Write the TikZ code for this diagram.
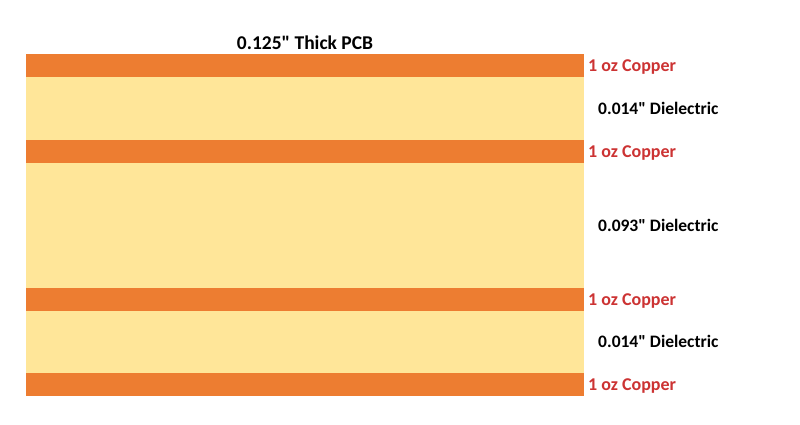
\documentclass[tikz,border=0pt]{standalone}
\usepackage{fontspec}
\setmainfont{Carlito}[Ligatures=TeXOff]
\usetikzlibrary{positioning}

\definecolor{copperorange}{HTML}{ED7D31}
\definecolor{dielyellow}{HTML}{FFE699}
\definecolor{labelred}{HTML}{CC3333}

\begin{document}
\begin{tikzpicture}[
  x=1pt, y=-1pt,
  layer/.style={anchor=north west, inner sep=0pt, outer sep=0pt, minimum width=558pt},
  copper/.style={layer, fill=copperorange, minimum height=23pt},
  dielectric/.style={layer, fill=dielyellow},
  culabel/.style={inner sep=0pt, yshift=-2pt, font=\bfseries\fontsize{18}{21}\selectfont, text=labelred},
  diellabel/.style={inner sep=0pt, font=\bfseries\fontsize{17.5}{20}\selectfont}
]
\useasboundingbox (0,0) rectangle (800,425);

% stack of layers, top to bottom
\node[copper] (cu1) at (26,54) {};
\node[dielectric, minimum height=62.5pt] (d1) at (26,77) {};
\node[copper] (cu2) at (26,139.5) {};
\node[dielectric, minimum height=125pt] (d2) at (26,162.5) {};
\node[copper] (cu3) at (26,287.5) {};
\node[dielectric, minimum height=62.5pt] (d3) at (26,310.5) {};
\node[copper] (cu4) at (26,373) {};

\node[inner sep=0pt, font=\bfseries\fontsize{19.5}{22}\selectfont] (title) at (305,43) {0.125" Thick PCB};

\node[culabel, right=4pt of cu1] (cu1lbl) {1 oz Copper};
\node[culabel, right=4pt of cu2] (cu2lbl) {1 oz Copper};
\node[culabel, right=4pt of cu3] (cu3lbl) {1 oz Copper};
\node[culabel, right=4pt of cu4] (cu4lbl) {1 oz Copper};

\node[diellabel, right=14pt of d1] (d1lbl) {0.014" Dielectric};
\node[diellabel, right=14pt of d2] (d2lbl) {0.093" Dielectric};
\node[diellabel, right=14pt of d3] (d3lbl) {0.014" Dielectric};

\end{tikzpicture}
\end{document}
